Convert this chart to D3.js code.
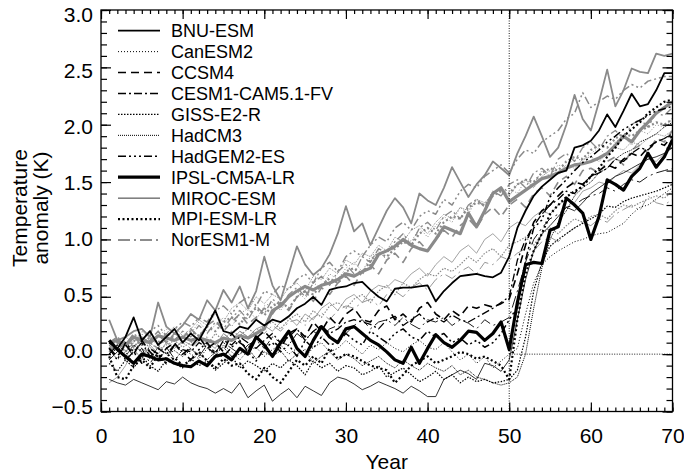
<!DOCTYPE html>
<html>
<head>
<meta charset="utf-8">
<script src="https://cdn.jsdelivr.net/npm/d3@7"></script>
<style>
body { margin: 0; background: #fff; }
text { font-family: "Liberation Sans", Arial, Helvetica, sans-serif; fill: #000; }
</style>
</head>
<body>
<script>
var years = [1,2,3,4,5,6,7,8,9,10,11,12,13,14,15,16,17,18,19,20,
  21,22,23,24,25,26,27,28,29,30,31,32,33,34,35,36,37,38,39,40,
  41,42,43,44,45,46,47,48,49,50,51,52,53,54,55,56,57,58,59,60,
  61,62,63,64,65,66,67,68,69,70];

var models = ["BNU-ESM", "CanESM2", "CCSM4", "CESM1-CAM5.1-FV", "GISS-E2-R", "HadCM3",
  "HadGEM2-ES", "IPSL-CM5A-LR", "MIROC-ESM", "MPI-ESM-LR", "NorESM1-M"];

var xTicks = [0, 10, 20, 30, 40, 50, 60, 70];
var yTicks = [-0.5, 0.0, 0.5, 1.0, 1.5, 2.0, 2.5, 3.0];

// grey runs
var gBNU = [0.30,0.12,0.15,0.20,0.22,0.15,0.45,0.24,0.18,0.25,
  0.35,0.30,0.47,0.38,0.56,0.45,0.59,0.40,0.55,0.85,
  0.60,0.47,0.70,0.94,0.78,0.69,0.75,0.87,1.05,1.29,
  1.07,1.14,0.95,1.10,1.25,1.36,1.28,1.14,1.40,1.34,
  1.30,1.45,1.63,1.50,1.37,1.48,1.56,1.68,1.62,1.56,
  1.75,1.90,2.07,1.90,1.72,1.80,2.00,2.26,2.05,1.95,
  2.20,2.48,2.16,2.30,2.49,2.46,2.45,2.62,2.60,2.62];
var gCan = [0.05,0.12,0.02,0.10,0.18,0.08,0.15,0.22,0.12,0.20,
  0.18,0.28,0.20,0.25,0.32,0.24,0.35,0.40,0.30,0.42,
  0.45,0.38,0.50,0.55,0.48,0.62,0.58,0.70,0.65,0.75,
  0.80,0.72,0.85,0.90,0.82,0.95,1.05,0.98,1.10,1.02,
  1.12,1.20,1.15,1.28,1.22,1.35,1.30,1.42,1.38,1.45,
  1.40,1.52,1.48,1.60,1.55,1.65,1.62,1.72,1.68,1.75,
  1.80,1.72,1.85,1.90,1.82,1.95,1.92,2.00,1.98,2.05];
var gCCSM = [0.02,0.10,0.05,0.15,0.08,0.12,0.20,0.10,0.18,0.14,
  0.22,0.15,0.25,0.30,0.20,0.28,0.35,0.26,0.32,0.40,
  0.35,0.45,0.38,0.50,0.55,0.46,0.58,0.52,0.62,0.68,
  0.60,0.72,0.78,0.70,0.82,0.88,0.80,0.92,0.98,0.90,
  1.00,1.08,1.02,1.12,1.18,1.10,1.22,1.28,1.20,1.30,
  1.35,1.28,1.40,1.45,1.38,1.50,1.55,1.48,1.60,1.62,
  1.58,1.68,1.72,1.65,1.78,1.82,1.75,1.88,1.85,1.95];
var gCESM = [0.08,0.02,0.12,0.06,0.15,0.10,0.05,0.18,0.12,0.20,
  0.15,0.25,0.18,0.28,0.22,0.32,0.38,0.30,0.42,0.35,
  0.48,0.42,0.52,0.58,0.50,0.62,0.68,0.60,0.72,0.78,
  0.70,0.85,0.80,0.92,0.88,0.98,1.05,0.95,1.10,1.15,
  1.08,1.20,1.25,1.18,1.30,1.35,1.28,1.42,1.38,1.48,
  1.52,1.45,1.58,1.62,1.55,1.70,1.75,1.68,1.80,1.85,
  1.78,1.90,1.95,1.88,2.00,2.05,1.98,2.10,2.08,2.15];
var gGISS = [0.00,0.05,-0.02,0.08,0.02,0.10,0.04,0.08,0.12,0.06,
  0.10,0.15,0.08,0.18,0.12,0.20,0.16,0.22,0.18,0.25,
  0.28,0.22,0.30,0.35,0.28,0.38,0.32,0.42,0.45,0.40,
  0.48,0.52,0.45,0.55,0.60,0.52,0.62,0.58,0.65,0.70,
  0.68,0.75,0.72,0.78,0.85,0.80,0.88,0.92,0.85,0.95,
  0.98,1.02,0.95,1.05,1.10,1.05,1.12,1.18,1.15,1.20,
  1.22,1.18,1.25,1.30,1.28,1.32,1.35,1.38,1.36,1.42];
var gHadCM3 = [0.12,0.05,0.15,0.10,0.20,0.14,0.08,0.18,0.24,0.16,
  0.22,0.30,0.25,0.35,0.28,0.40,0.45,0.38,0.50,0.44,
  0.52,0.48,0.58,0.62,0.55,0.68,0.65,0.75,0.70,0.82,
  0.78,0.88,0.85,0.95,0.90,1.02,0.98,1.08,1.12,1.05,
  1.15,1.22,1.18,1.28,1.25,1.35,1.32,1.40,1.45,1.38,
  1.48,1.52,1.45,1.55,1.60,1.58,1.65,1.62,1.70,1.72,
  1.68,1.75,1.80,1.78,1.85,1.82,1.88,1.92,1.90,1.95];
var gHadGEM = [0.10,0.15,0.08,0.18,0.12,0.20,0.25,0.16,0.22,0.28,
  0.24,0.32,0.28,0.38,0.42,0.35,0.45,0.50,0.42,0.55,
  0.52,0.60,0.56,0.65,0.70,0.62,0.75,0.80,0.72,0.85,
  0.90,0.85,0.95,1.02,0.98,1.10,1.15,1.08,1.20,1.25,
  1.22,1.35,1.30,1.42,1.48,1.45,1.55,1.60,1.65,1.58,
  1.70,1.78,1.75,1.85,1.90,1.95,2.05,2.10,2.28,2.15,
  2.20,2.25,2.22,2.30,2.35,2.32,2.38,2.40,2.42,2.42];
var gIPSL = [0.10,0.12,0.08,0.15,0.12,0.10,0.16,0.14,0.12,0.15,
  0.12,0.14,0.12,0.10,0.14,0.12,0.16,0.14,0.18,0.22,
  0.38,0.42,0.50,0.55,0.59,0.56,0.60,0.62,0.65,0.70,
  0.68,0.72,0.75,0.87,0.90,0.94,1.00,0.95,0.92,0.90,
  1.00,1.11,1.08,1.05,1.23,1.11,1.25,1.40,1.45,1.33,
  1.38,1.43,1.48,1.53,1.55,1.58,1.62,1.65,1.66,1.68,
  1.71,1.75,1.82,1.90,1.85,1.95,2.02,2.10,2.15,2.20];
var gMIROC = [-0.25,-0.20,-0.10,0.05,-0.05,0.08,0.00,0.10,0.05,0.12,
  0.08,0.15,0.10,0.05,0.18,0.12,0.20,0.15,0.22,0.25,
  0.20,0.28,0.32,0.25,0.35,0.30,0.40,0.45,0.38,0.48,
  0.52,0.45,0.55,0.60,0.58,0.65,0.62,0.70,0.75,0.68,
  0.78,0.85,0.80,0.90,0.95,0.88,1.00,1.05,0.98,1.10,
  1.15,1.12,1.20,1.25,1.22,1.30,1.35,1.32,1.42,1.45,
  1.50,1.48,1.55,1.60,1.58,1.65,1.70,1.68,1.75,1.80];
var gMPI = [0.05,0.10,0.02,0.12,0.08,0.15,0.10,0.18,0.14,0.12,
  0.20,0.16,0.24,0.20,0.28,0.32,0.26,0.35,0.40,0.34,
  0.42,0.46,0.40,0.50,0.55,0.52,0.60,0.66,0.62,0.72,
  0.75,0.70,0.82,0.88,0.85,0.92,0.98,0.95,1.05,1.10,
  1.05,1.15,1.20,1.18,1.28,1.32,1.30,1.38,1.42,1.40,
  1.48,1.52,1.50,1.58,1.62,1.60,1.68,1.72,1.70,1.78,
  1.82,1.80,1.88,1.92,1.90,1.95,1.98,2.02,2.00,2.05];
var gNor = [0.00,0.08,0.02,0.10,0.05,0.00,0.08,0.12,0.06,0.10,
  0.05,0.12,0.15,0.08,0.18,0.12,0.20,0.15,0.22,0.18,
  0.25,0.20,0.28,0.30,0.25,0.32,0.36,0.30,0.38,0.42,
  0.40,0.45,0.48,0.42,0.52,0.55,0.50,0.58,0.62,0.56,
  0.65,0.70,0.66,0.72,0.76,0.70,0.80,0.78,0.85,0.82,
  0.88,0.92,0.90,0.98,1.02,0.98,1.05,1.10,1.15,1.12,
  1.18,1.15,1.22,1.26,1.30,1.25,1.38,1.32,1.30,1.35];

// black runs
var bBNU = [0.10,0.05,0.15,0.32,0.12,0.20,0.08,0.15,0.22,0.10,
  0.18,0.12,0.25,0.38,0.20,0.18,0.24,0.22,0.30,0.25,
  0.30,0.28,0.33,0.40,0.44,0.50,0.43,0.56,0.58,0.59,
  0.62,0.63,0.56,0.50,0.46,0.57,0.58,0.58,0.59,0.60,
  0.46,0.55,0.62,0.68,0.69,0.70,0.68,0.67,0.71,0.85,
  1.10,1.25,1.38,1.46,1.52,1.58,1.60,1.80,1.82,1.86,
  1.95,2.09,1.98,2.12,2.27,2.16,2.18,2.30,2.45,2.45];
var bCan = [0.05,-0.05,0.02,-0.08,0.00,0.06,-0.03,0.02,-0.06,0.04,
  0.00,-0.04,0.05,-0.02,0.08,0.02,-0.05,0.03,0.06,-0.02,
  0.04,0.08,0.00,0.05,-0.03,0.06,0.10,0.02,0.05,0.12,
  0.06,0.00,0.08,0.04,0.10,0.05,0.02,0.08,0.12,0.06,
  0.04,0.10,0.02,-0.05,0.00,-0.08,-0.02,-0.12,-0.06,0.00,
  0.05,0.35,0.62,0.78,0.85,0.90,0.94,0.98,1.00,1.03,
  1.05,1.06,1.10,1.14,1.22,1.28,1.30,1.35,1.40,1.45];
var bCCSM = [0.05,-0.02,0.08,0.00,0.12,0.02,-0.05,0.05,0.10,0.00,
  0.06,0.15,0.05,0.10,0.02,0.18,0.10,0.05,0.14,0.20,
  0.12,0.05,0.18,0.22,0.15,0.28,0.20,0.32,0.25,0.35,
  0.40,0.30,0.28,0.38,0.42,0.30,0.35,0.28,0.40,0.45,
  0.35,0.30,0.38,0.33,0.42,0.40,0.43,0.41,0.44,0.48,
  0.70,0.95,1.15,1.25,1.30,1.38,1.45,1.50,1.48,1.55,
  1.60,1.65,1.62,1.70,1.75,1.72,1.80,1.85,1.82,1.90];
var bCESM = [0.00,0.08,-0.05,0.02,0.10,-0.02,0.05,0.00,0.08,0.04,
  0.02,0.10,0.06,0.00,0.12,0.08,0.15,0.10,0.05,0.12,
  0.18,0.10,0.15,0.22,0.12,0.20,0.25,0.18,0.22,0.28,
  0.30,0.28,0.26,0.22,0.30,0.33,0.25,0.30,0.35,0.28,
  0.32,0.28,0.34,0.30,0.28,0.32,0.36,0.40,0.45,0.50,
  0.82,1.00,1.12,1.22,1.30,1.35,1.42,1.40,1.48,1.55,
  1.58,1.62,1.70,1.68,1.75,1.80,1.78,1.85,1.88,1.92];
var bGISS = [-0.08,-0.15,-0.05,-0.12,-0.02,-0.10,-0.15,-0.05,-0.08,-0.12,
  -0.04,-0.10,-0.06,-0.14,-0.08,-0.02,-0.12,-0.06,-0.10,-0.15,
  -0.08,-0.12,-0.05,-0.10,-0.18,-0.06,-0.12,-0.08,-0.15,-0.10,
  -0.12,-0.18,-0.15,-0.10,-0.20,-0.16,-0.12,-0.18,-0.24,-0.20,
  -0.15,-0.22,-0.18,-0.25,-0.20,-0.24,-0.22,-0.25,-0.24,-0.22,
  -0.14,0.15,0.55,0.80,0.94,1.00,1.05,1.10,1.14,1.18,
  1.22,1.29,1.28,1.33,1.36,1.38,1.40,1.42,1.45,1.48];
var bHadCM3 = [0.00,0.05,-0.02,0.08,0.02,-0.04,0.06,0.00,0.03,-0.02,
  0.04,0.00,-0.05,0.02,0.06,-0.02,0.00,0.05,-0.04,0.02,
  -0.02,0.03,-0.06,0.00,0.04,-0.08,-0.02,0.02,-0.05,0.00,
  -0.04,-0.10,-0.06,-0.02,-0.08,-0.12,-0.05,-0.10,-0.14,-0.08,
  -0.12,-0.15,-0.10,-0.18,-0.14,-0.20,-0.22,-0.25,-0.27,-0.25,
  -0.20,0.00,0.40,0.75,1.00,1.15,1.25,1.38,1.45,1.50,
  1.58,1.62,1.70,1.75,1.78,1.85,1.88,1.92,1.98,2.02];
var bHadGEM = [0.05,-0.05,0.10,0.02,-0.08,0.05,0.00,-0.04,0.08,0.02,
  -0.05,0.04,0.10,0.00,-0.02,0.06,0.12,0.02,-0.06,0.05,
  0.10,0.02,0.08,-0.02,0.12,0.05,0.15,0.08,0.10,0.18,
  0.12,0.08,0.20,0.15,0.10,0.18,0.22,0.15,0.12,0.20,
  0.15,0.18,0.10,0.14,0.08,0.12,0.06,0.10,0.18,0.30,
  0.41,0.82,1.10,1.17,1.37,1.45,1.52,1.60,1.67,1.72,
  1.78,1.85,1.90,1.96,2.00,2.04,2.08,2.12,2.14,2.16];
var bIPSL = [0.12,0.04,-0.02,-0.08,0.00,-0.02,-0.05,-0.04,-0.08,-0.10,
  -0.11,-0.06,-0.10,-0.02,0.00,-0.05,0.05,0.00,0.15,0.08,
  -0.02,0.10,0.20,0.05,-0.02,0.12,0.24,0.15,0.10,0.22,
  0.24,0.18,0.12,0.08,0.02,-0.05,-0.08,0.06,-0.08,0.05,
  0.17,0.10,0.06,0.12,0.20,0.19,0.12,0.18,0.28,0.04,
  0.45,0.78,0.80,0.79,1.08,1.11,1.36,1.30,1.23,1.00,
  1.20,1.52,1.48,1.43,1.55,1.62,1.75,1.63,1.72,1.87];
var bMIROC = [-0.22,-0.25,-0.27,-0.22,-0.25,-0.28,-0.31,-0.24,-0.26,-0.20,
  -0.25,-0.28,-0.30,-0.34,-0.30,-0.34,-0.25,-0.38,-0.32,-0.27,
  -0.41,-0.35,-0.30,-0.38,-0.28,-0.32,-0.36,-0.25,-0.20,-0.22,
  -0.26,-0.31,-0.28,-0.24,-0.27,-0.30,-0.34,-0.28,-0.32,-0.37,
  -0.37,-0.22,-0.18,-0.14,-0.17,-0.22,-0.08,-0.10,-0.15,-0.05,
  0.30,0.65,0.90,1.05,1.12,1.20,1.28,1.25,1.32,1.40,
  1.45,1.50,1.55,1.58,1.62,1.66,1.70,1.72,1.75,1.80];
var bMPI = [-0.02,-0.20,-0.22,-0.10,-0.05,-0.12,0.00,-0.08,-0.03,-0.10,
  -0.05,0.02,-0.06,-0.12,-0.04,-0.10,-0.08,-0.17,-0.22,-0.12,
  -0.20,-0.25,-0.15,-0.05,-0.10,-0.02,-0.08,0.05,-0.04,0.00,
  -0.02,-0.06,-0.10,-0.12,-0.14,-0.25,-0.18,-0.10,-0.06,-0.02,
  -0.08,-0.05,-0.02,0.02,0.00,-0.04,-0.02,-0.06,-0.10,-0.22,
  0.30,0.70,0.90,1.05,1.22,1.30,1.37,1.42,1.46,1.55,
  1.62,1.72,1.80,1.90,1.96,2.02,2.10,2.15,2.20,2.22];
var bNor = [-0.05,0.02,0.08,-0.02,0.05,-0.08,0.02,0.06,-0.04,0.00,
  0.05,-0.02,0.08,0.02,0.10,0.05,0.00,0.08,0.12,0.05,
  0.15,0.10,0.08,0.18,0.12,0.20,0.15,0.22,0.25,0.18,
  0.25,0.30,0.22,0.28,0.30,0.25,0.32,0.26,0.22,0.30,
  0.28,0.32,0.25,0.30,0.27,0.22,0.30,0.25,0.28,0.32,
  0.55,0.80,1.00,1.10,1.18,1.22,1.28,1.30,1.35,1.38,
  1.40,1.45,1.42,1.48,1.52,1.50,1.55,1.58,1.60,1.62];

var greyRuns = [gBNU, gCan, gCCSM, gCESM, gGISS, gHadCM3, gHadGEM, gIPSL, gMIROC, gMPI, gNor];
var blackRuns = [bBNU, bCan, bCCSM, bCESM, bGISS, bHadCM3, bHadGEM, bIPSL, bMIROC, bMPI, bNor];

// one line style per model, same order as models
var styles = [
  {dash: null, w: 1.8},
  {dash: "1,2", w: 1},
  {dash: "8,5", w: 1.6},
  {dash: "8,3,2,3", w: 1.3},
  {dash: "1.5,1.5", w: 1.2},
  {dash: "1,1", w: 1},
  {dash: "8,3,2,3,2,3,2,3", w: 1.5},
  {dash: null, w: 3.2},
  {dash: null, w: 0.8},
  {dash: "2,2.5", w: 2.2},
  {dash: "12,4,2,4", w: 0.9}
];

var W = 684, H = 475;
// plot frame (avoid the name "top", it is window.top)
var pL = 101, pR = 672.5, pT = 10, pB = 411.5;

var svg = d3.select("body")
      .append("svg")
      .attr("width", W)
      .attr("height", H);

var x = d3.scaleLinear().domain([0, 70]).range([pL, pR]);
var y = d3.scaleLinear().domain([-0.5, 3]).range([pB, pT]);
// tick labels sit a little closer together than the ticks themselves
var yLab = d3.scaleLinear().domain([-0.5, 3]).range([pB - 5, pT + 5]);

svg.append("clipPath").attr("id", "clip")
  .append("rect")
  .attr("x", pL).attr("y", pT)
  .attr("width", pR - pL).attr("height", pB - pT);

var line = d3.line()
  .x(function(d, i) { return x(years[i]); })
  .y(function(d) { return y(d); });

function drawRuns(runs, colour) {
  svg.append("g")
    .attr("clip-path", "url(#clip)")
    .selectAll("path")
    .data(runs)
    .enter()
    .append("path")
    .attr("d", line)
    .attr("fill", "none")
    .attr("stroke", colour)
    .attr("stroke-width", function(d, i) { return styles[i].w; })
    .attr("stroke-dasharray", function(d, i) { return styles[i].dash; })
    .attr("stroke-linejoin", "round");
}

drawRuns(greyRuns, "#8a8a8a");
drawRuns(blackRuns, "#000");

// reference lines at year 50 and zero anomaly
svg.append("line")
  .attr("x1", x(50)).attr("x2", x(50))
  .attr("y1", y(-0.5)).attr("y2", y(3))
  .attr("stroke", "#000").attr("stroke-width", 0.9)
  .attr("stroke-dasharray", "1,1.5");
svg.append("line")
  .attr("x1", x(50)).attr("x2", x(70))
  .attr("y1", y(0)).attr("y2", y(0))
  .attr("stroke", "#000").attr("stroke-width", 0.9)
  .attr("stroke-dasharray", "1,1.5");

// axes, ticks pointing inward on all four sides
var minorX = d3.range(0, 71, 1);
var minorY = d3.range(-5, 31, 1).map(function(v) { return v / 10; });

function styleAxis(g) {
  g.select(".domain").remove();
  g.selectAll("line").attr("stroke", "#000").attr("stroke-width", 1.2);
  g.selectAll("text").attr("font-family", "Liberation Sans, Arial, sans-serif");
}

svg.append("g").attr("transform", "translate(0," + pB + ")")
  .call(d3.axisBottom(x).tickValues(minorX).tickSize(-4).tickFormat(""))
  .call(styleAxis);
svg.append("g").attr("transform", "translate(0," + pT + ")")
  .call(d3.axisTop(x).tickValues(minorX).tickSize(-4).tickFormat(""))
  .call(styleAxis);
svg.append("g").attr("transform", "translate(0," + pT + ")")
  .call(d3.axisTop(x).tickValues(xTicks).tickSize(-9).tickFormat(""))
  .call(styleAxis);
svg.append("g").attr("transform", "translate(0," + pB + ")")
  .call(d3.axisBottom(x).tickValues(xTicks).tickSize(-9).tickPadding(17).tickFormat(d3.format("d")))
  .call(styleAxis)
  .selectAll("text").attr("font-size", 21);

svg.append("g").attr("transform", "translate(" + pL + ",0)")
  .call(d3.axisLeft(y).tickValues(minorY).tickSize(-6).tickFormat(""))
  .call(styleAxis);
svg.append("g").attr("transform", "translate(" + pR + ",0)")
  .call(d3.axisRight(y).tickValues(minorY).tickSize(-6).tickFormat(""))
  .call(styleAxis);
svg.append("g").attr("transform", "translate(" + pR + ",0)")
  .call(d3.axisRight(y).tickValues(yTicks).tickSize(-10).tickFormat(""))
  .call(styleAxis);
svg.append("g").attr("transform", "translate(" + pL + ",0)")
  .call(d3.axisLeft(y).tickValues(yTicks).tickSize(-10).tickPadding(8).tickFormat(d3.format(".1f")))
  .call(styleAxis)
  .selectAll("text")
  .attr("font-size", 21)
  .attr("y", function(d) { return yLab(d) - y(d); });

svg.append("rect")
  .attr("x", pL).attr("y", pT)
  .attr("width", pR - pL).attr("height", pB - pT)
  .attr("fill", "none").attr("stroke", "#000").attr("stroke-width", 1.3);

// axis titles
svg.append("text")
  .attr("x", (pL + pR) / 2).attr("y", 469)
  .attr("text-anchor", "middle").attr("font-size", 21)
  .text("Year");
var ytitle = svg.append("text")
  .attr("transform", "translate(27,208) rotate(-90)")
  .attr("text-anchor", "middle").attr("font-size", 21);
ytitle.append("tspan").attr("x", 0).attr("y", 0).text("Temperature");
ytitle.append("tspan").attr("x", 0).attr("y", 21).text("anomaly (K)");

// legend
var legend = svg.append("g");
var rows = legend.selectAll("g")
  .data(models)
  .enter()
  .append("g")
  .attr("transform", function(d, i) { return "translate(0," + (30.7 + i * 20.93) + ")"; });
rows.append("line")
  .attr("x1", 118).attr("x2", 160)
  .attr("stroke", "#000")
  .attr("stroke-width", function(d, i) { return styles[i].w; })
  .attr("stroke-dasharray", function(d, i) { return styles[i].dash; });
rows.append("text")
  .attr("x", 171).attr("y", 6.4)
  .attr("font-size", 18)
  .text(function(d) { return d; });
</script>
</body>
</html>
